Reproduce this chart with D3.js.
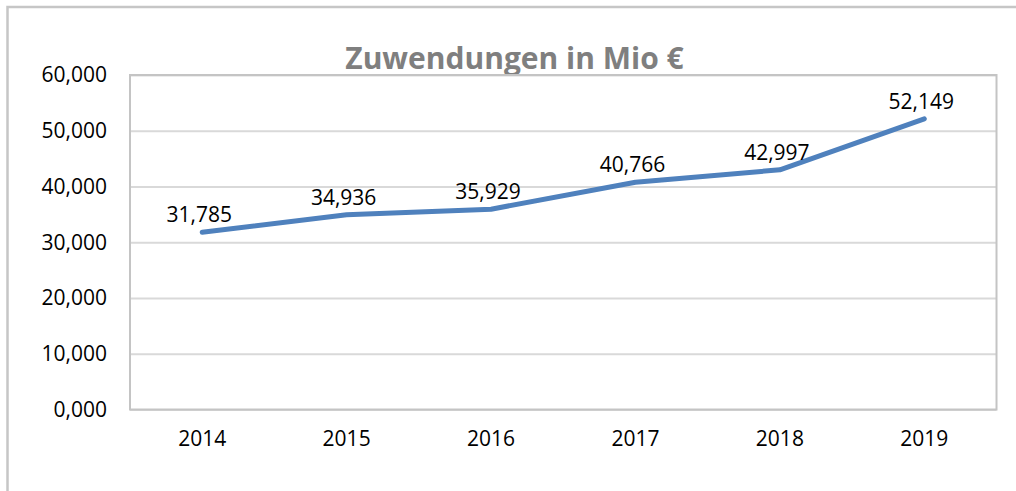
<!DOCTYPE html>
<html lang="de">
    <head>
        <meta charset="utf-8">
        <title>Zuwendungen in Mio €</title>
        <script src="https://d3js.org/d3.v7.min.js"></script>
        <style type="text/css">
            body { margin: 0; background: #fff; }
            text { font-family: "Open Sans", sans-serif; fill: #000; }
        </style>
    </head>
    <body>
        <svg width="1016" height="491"></svg>
        <script type="text/javascript">

            // chart data (values in Mio €, shown with German decimal comma)
            const years = ["2014", "2015", "2016", "2017", "2018", "2019"];
            const values = [31.785, 34.936, 35.929, 40.766, 42.997, 52.149];
            const yTicks = [0, 10, 20, 30, 40, 50, 60];
            const title = "Zuwendungen in Mio €";

            const svg = d3.select("svg");
            const plotLeft = 130, plotRight = 996.5, plotTop = 75, plotBottom = 409.5;

            const de = d3.formatLocale({decimal: ",", thousands: ".", grouping: [3], currency: ["", " €"]});
            const fmt = de.format(".3f");

            const xScale = d3.scaleBand()
                             .domain(years)
                             .range([plotLeft, plotRight]);

            const yScale = d3.scaleLinear()
                             .domain([0, 60])
                             .range([plotBottom, plotTop]);

            // outer chart border (cut off at right and bottom)
            svg.append("rect")
               .attr("x", 7.5).attr("y", 7)
               .attr("width", 1040).attr("height", 520)
               .attr("fill", "none")
               .attr("stroke", "#c6c6c6")
               .attr("stroke-width", 2.5);

            // title
            svg.append("text")
               .attr("x", 514.5).attr("y", 69)
               .attr("text-anchor", "middle")
               .style("font-size", "30px")
               .style("font-weight", "bold")
               .style("fill", "#7f7f7f")
               .text(title);

            // gridlines + y labels
            const yAxis = svg.append("g")
               .attr("transform", `translate(${plotLeft},0)`)
               .call(d3.axisLeft(yScale).tickValues(yTicks).tickFormat(fmt).tickSize(-(plotRight - plotLeft)).tickPadding(23));
            yAxis.select(".domain").remove();
            yAxis.selectAll("line").attr("stroke", "#d9d9d9").attr("stroke-width", 2);
            yAxis.selectAll("text").style("font-size", "21px").attr("dy", "0.33em");

            // plot area border
            svg.append("rect")
               .attr("x", plotLeft).attr("y", plotTop)
               .attr("width", plotRight - plotLeft).attr("height", plotBottom - plotTop)
               .attr("fill", "none")
               .attr("stroke", "#c4c4c4")
               .attr("stroke-width", 2);

            // x labels
            const xAxis = svg.append("g")
               .attr("transform", `translate(0,${plotBottom})`)
               .call(d3.axisBottom(xScale).tickSize(0).tickPadding(22));
            xAxis.select(".domain").remove();
            xAxis.selectAll("text").style("font-size", "21px");

            // the line
            const line = d3.line()
                           .x((d, i) => xScale(years[i]) + xScale.bandwidth() / 2)
                           .y(d => yScale(d));

            svg.append("path")
               .datum(values)
               .attr("d", line)
               .attr("fill", "none")
               .attr("stroke", "#4f81bd")
               .attr("stroke-width", 5)
               .attr("stroke-linecap", "round")
               .attr("stroke-linejoin", "round");

            // data labels
            svg.selectAll(".lbl")
               .data(values)
               .enter()
               .append("text")
               .attr("class", "lbl")
               .attr("x", (d, i) => xScale(years[i]) + xScale.bandwidth() / 2 - 3)
               .attr("y", d => yScale(d) - 10)
               .attr("text-anchor", "middle")
               .style("font-size", "21px")
               .text(d => fmt(d));

        </script>
    </body>
</html>
